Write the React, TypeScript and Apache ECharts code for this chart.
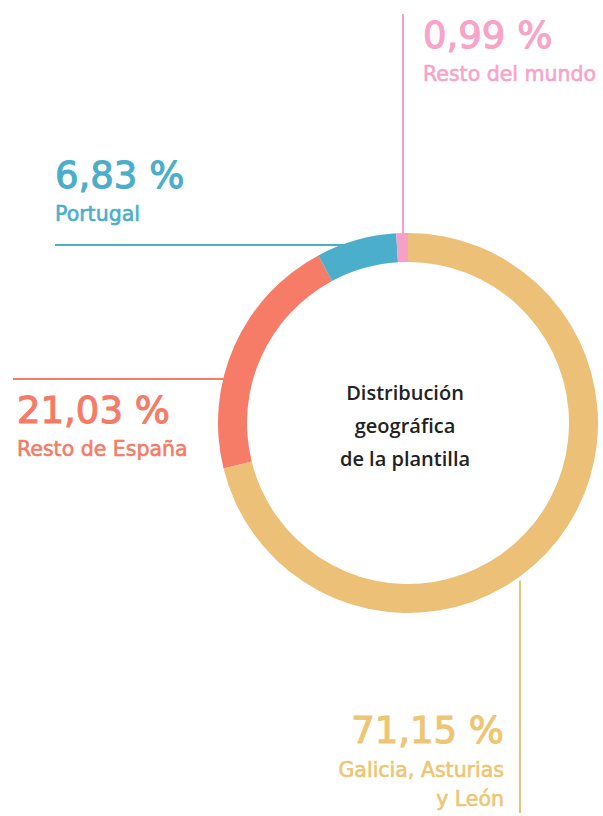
import React, { useEffect, useRef } from "react";
import * as echarts from "echarts";

const categories = ["Galicia, Asturias y León", "Resto de España", "Portugal", "Resto del mundo"];
const values = [71.15, 21.03, 6.83, 0.99];
const centerTitle = ["Distribución", "geográfica", "de la plantilla"];

const ringColors = ["#ECC077", "#F77C68", "#4BAFCB", "#F6A0C8"];
const textColors = ["#EEC572", "#F57B67", "#4AAECB", "#F8A3C8"];

const CX = 408;
const CY = 423;
const R_OUT = 190;
const R_IN = 161;

const fmt = (v: number) => v.toFixed(2).replace(".", ",") + " %";

export default function App() {
  const ref = useRef<HTMLDivElement>(null);

  useEffect(() => {
    if (!ref.current) return;
    const chart = echarts.init(ref.current, undefined, { renderer: "svg" });

    const numFont = { fontFamily: "DejaVu Sans", fontSize: 37, fontWeight: "normal" as const, lw: 1.1 };
    const lblFont = { fontFamily: "DejaVu Sans", fontSize: 20.5, fontWeight: "normal" as const, lw: 0.6 };

    const xAtY = (y: number, side: number) => CX + side * Math.sqrt(R_OUT * R_OUT - (y - CY) * (y - CY));
    const yAtX = (x: number, side: number) => CY + side * Math.sqrt(R_OUT * R_OUT - (x - CX) * (x - CX));

    const blueY = 245;
    const redY = 379;
    const pinkX = 403;
    const goldX = 520;

    const line = (x1: number, y1: number, x2: number, y2: number, color: string) => ({
      type: "line",
      shape: { x1, y1, x2, y2 },
      style: { stroke: color, lineWidth: 2 },
      silent: true,
    });

    const text = (
      t: string,
      x: number,
      y: number,
      color: string,
      font: any,
      align: string = "left"
    ) => ({
      type: "text",
      x,
      y,
      style: {
        text: t,
        fill: color,
        fontFamily: font.fontFamily,
        fontSize: font.fontSize,
        fontWeight: font.fontWeight,
        stroke: font.lw ? color : undefined,
        lineWidth: font.lw || 0,
        align,
        verticalAlign: "middle",
      },
      silent: true,
    });

    const goldLabel = categories[0].split(" y ");

    chart.setOption({
      animation: false,
      backgroundColor: "#ffffff",
      series: [
        {
          type: "pie",
          center: [CX, CY],
          radius: [R_IN, R_OUT],
          startAngle: 90,
          clockwise: true,
          silent: true,
          avoidLabelOverlap: false,
          label: { show: false },
          labelLine: { show: false },
          itemStyle: { borderWidth: 0 },
          data: categories.map((name, i) => ({
            name,
            value: values[i],
            itemStyle: { color: ringColors[i] },
          })),
        },
      ],
      graphic: [
        line(pinkX, 14, pinkX, yAtX(pinkX, -1) + 2, ringColors[3]),
        line(55, blueY, xAtY(blueY, -1) + 3, blueY, ringColors[2]),
        line(13, redY, xAtY(redY, -1) + 3, redY, ringColors[1]),
        line(goldX, yAtX(goldX, 1) + 4, goldX, 813, ringColors[0]),
        text(fmt(values[3]), 423, 35, textColors[3], numFont),
        text(categories[3], 423, 74, textColors[3], lblFont),
        text(fmt(values[2]), 55, 175, textColors[2], numFont),
        text(categories[2], 55, 214, textColors[2], lblFont),
        text(fmt(values[1]), 17, 410, textColors[1], numFont),
        text(categories[1], 17, 449, textColors[1], lblFont),
        text(fmt(values[0]), 504, 730, textColors[0], numFont, "right"),
        text(goldLabel[0], 504, 770, textColors[0], lblFont, "right"),
        text("y " + goldLabel[1], 504, 799, textColors[0], lblFont, "right"),
        ...centerTitle.map((t, i) =>
          text(t, 405, 392 + i * 33, "#222222", { fontFamily: "Open Sans", fontSize: 20, fontWeight: 600 }, "center")
        ),
      ],
    });

    return () => chart.dispose();
  }, []);

  return (
    <div
      ref={ref}
      style={{ position: "absolute", left: 0, top: 0, width: 603, height: 816 }}
    />
  );
}
